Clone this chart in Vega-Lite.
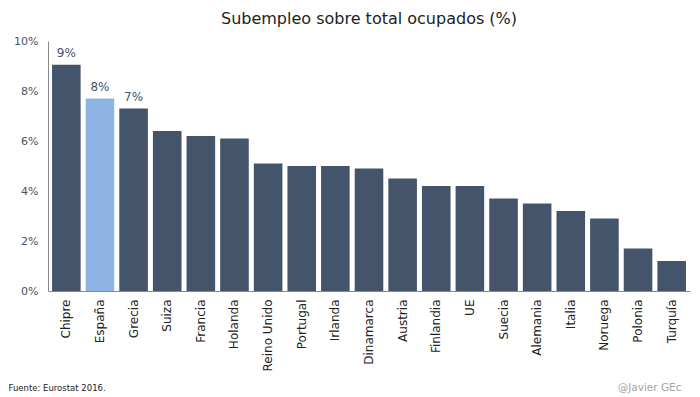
{
  "$schema": "https://vega.github.io/schema/vega-lite/v6.json",
  "width": 642,
  "height": 250,
  "autosize": {"type": "none"},
  "padding": {"left": 48, "top": 41, "right": 10, "bottom": 106},
  "background": "white",
  "config": {
    "font": "DejaVu Sans",
    "view": {"stroke": null}
  },
  "title": {
    "text": "Subempleo sobre total ocupados (%)",
    "fontSize": 16,
    "fontWeight": "normal",
    "color": "#222222",
    "anchor": "middle",
    "frame": "group",
    "offset": 8,
    "font": "DejaVu Sans"
  },
  "data": {
    "values": [
      {"pais": "Chipre", "valor": 9.05, "etiqueta": "9%"},
      {"pais": "España", "valor": 7.7, "etiqueta": "8%"},
      {"pais": "Grecia", "valor": 7.3, "etiqueta": "7%"},
      {"pais": "Suiza", "valor": 6.4, "etiqueta": ""},
      {"pais": "Francia", "valor": 6.2, "etiqueta": ""},
      {"pais": "Holanda", "valor": 6.1, "etiqueta": ""},
      {"pais": "Reino Unido", "valor": 5.1, "etiqueta": ""},
      {"pais": "Portugal", "valor": 5.0, "etiqueta": ""},
      {"pais": "Irlanda", "valor": 5.0, "etiqueta": ""},
      {"pais": "Dinamarca", "valor": 4.9, "etiqueta": ""},
      {"pais": "Austria", "valor": 4.5, "etiqueta": ""},
      {"pais": "Finlandia", "valor": 4.2, "etiqueta": ""},
      {"pais": "UE", "valor": 4.2, "etiqueta": ""},
      {"pais": "Suecia", "valor": 3.7, "etiqueta": ""},
      {"pais": "Alemania", "valor": 3.5, "etiqueta": ""},
      {"pais": "Italia", "valor": 3.2, "etiqueta": ""},
      {"pais": "Noruega", "valor": 2.9, "etiqueta": ""},
      {"pais": "Polonia", "valor": 1.7, "etiqueta": ""},
      {"pais": "Turquía", "valor": 1.2, "etiqueta": ""}
    ]
  },
  "encoding": {
    "x": {
      "field": "pais",
      "type": "nominal",
      "sort": null,
      "scale": {"paddingInner": 0.15, "paddingOuter": 0.12},
      "axis": {
        "title": "Fuente: Eurostat 2016.",
        "titleX": -40,
        "titleY": 99,
        "titleAlign": "left",
        "titleAnchor": null,
        "titleBaseline": "alphabetic",
        "titleFontSize": 8.5,
        "titleFontWeight": "normal",
        "titleColor": "#222222",
        "labelAngle": -90,
        "labelAlign": "right",
        "labelBaseline": "middle",
        "labelPadding": 8,
        "labelFontSize": 12,
        "labelColor": "#222222",
        "ticks": false,
        "domainColor": "#888888",
        "domainWidth": 1
      }
    },
    "y": {
      "field": "valor",
      "type": "quantitative",
      "scale": {"domain": [0, 10], "nice": false},
      "axis": {
        "title": "@Javier GEc",
        "titleAngle": 0,
        "titleX": 633,
        "titleY": 349,
        "titleAlign": "right",
        "titleAnchor": null,
        "titleBaseline": "alphabetic",
        "titleFontSize": 10.5,
        "titleFontWeight": "normal",
        "titleColor": "#a6a6a6",
        "values": [0, 2, 4, 6, 8, 10],
        "labelExpr": "datum.value + '%'",
        "labelFontSize": 11,
        "labelColor": "#44546a",
        "labelPadding": 10,
        "ticks": false,
        "grid": false,
        "domainColor": "#888888",
        "domainWidth": 1
      }
    }
  },
  "layer": [
    {
      "mark": {"type": "bar"},
      "encoding": {
        "color": {
          "condition": {"test": "datum.pais === 'España'", "value": "#8eb4e3"},
          "value": "#44546a"
        }
      }
    },
    {
      "mark": {"type": "text", "baseline": "bottom", "dy": -5, "fontSize": 12, "color": "#44546a"},
      "encoding": {
        "text": {"field": "etiqueta", "type": "nominal"}
      }
    }
  ]
}
